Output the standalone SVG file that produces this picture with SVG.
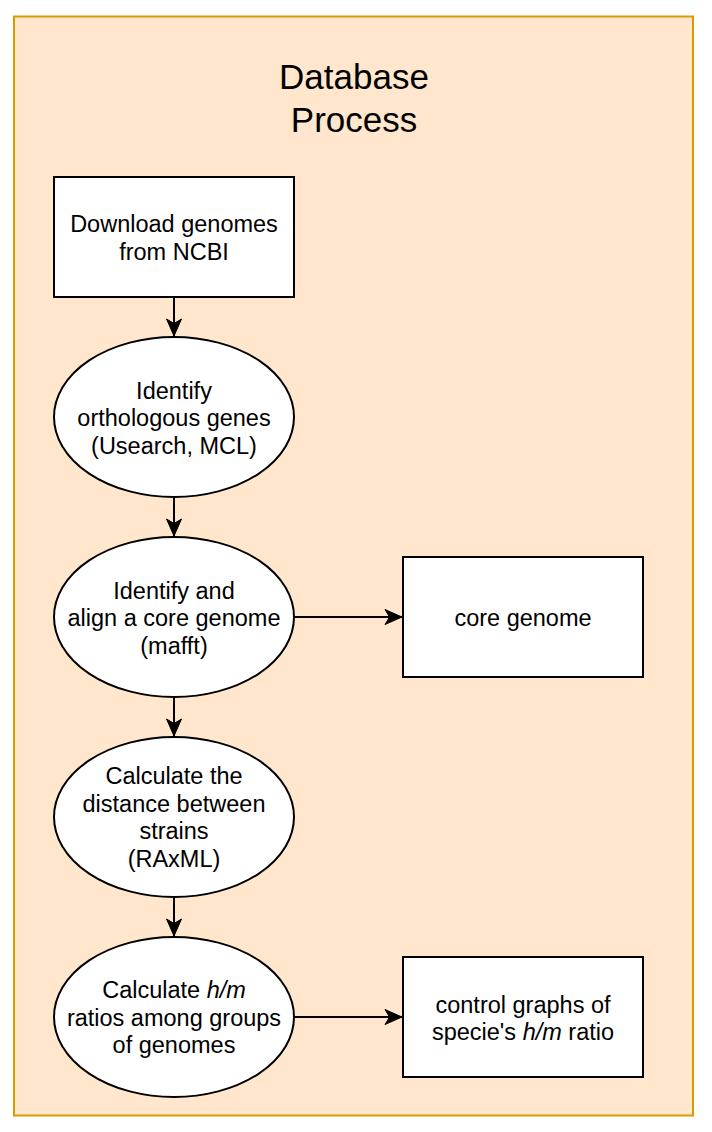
<svg xmlns="http://www.w3.org/2000/svg" width="712" height="1132" viewBox="0 0 712 1132">
  <style>
    .node { fill: #FFFFFF; stroke: #000000; stroke-width: 2; }
    .lbl { font-family: "Liberation Sans", Arial, Helvetica, sans-serif; font-size: 23.5px; fill: #000000; text-anchor: middle; }
    .title { font-family: "Liberation Sans", Arial, Helvetica, sans-serif; font-size: 35px; fill: #000000; text-anchor: middle; }
    .conn { fill: none; stroke: #000000; stroke-width: 2; marker-end: url(#arrow); }
    .it { font-style: italic; }
  </style>
  <defs>
    <marker id="arrow" markerUnits="userSpaceOnUse" markerWidth="20" markerHeight="18" viewBox="-18 -9 20 18" refX="0" refY="0" orient="auto">
      <path d="M0,0 L-17,-7.5 L-12.5,0 L-17,7.5 Z" fill="#000000" stroke="#000000" stroke-width="1" stroke-linejoin="miter"/>
    </marker>
  </defs>

  <g id="container">
    <rect x="14" y="16.5" width="679" height="1099" fill="#FFE6CC" stroke="#D79B00" stroke-width="2"/>
    <text class="title" x="354" y="89">Database</text>
    <text class="title" x="354" y="132">Process</text>
  </g>

  <g id="connectors">
    <line class="conn" x1="174" y1="297" x2="174" y2="336"/>
    <line class="conn" x1="174" y1="497" x2="174" y2="536"/>
    <line class="conn" x1="174" y1="697" x2="174" y2="736"/>
    <line class="conn" x1="174" y1="897" x2="174" y2="936"/>
    <line class="conn" x1="294" y1="617" x2="402" y2="617"/>
    <line class="conn" x1="294" y1="1017" x2="402" y2="1017"/>
  </g>

  <g id="download">
    <rect class="node" x="54" y="177" width="240" height="120"/>
    <text class="lbl" x="174" y="232">Download genomes</text>
    <text class="lbl" x="174" y="259.5">from NCBI</text>
  </g>

  <g id="orthologous">
    <ellipse class="node" cx="174" cy="417" rx="120" ry="80"/>
    <text class="lbl" x="174" y="398.5">Identify</text>
    <text class="lbl" x="174" y="426">orthologous genes</text>
    <text class="lbl" x="174" y="453.5">(Usearch, MCL)</text>
  </g>

  <g id="core-align">
    <ellipse class="node" cx="174" cy="617" rx="120" ry="80"/>
    <text class="lbl" x="174" y="598.5">Identify and</text>
    <text class="lbl" x="174" y="626">align a core genome</text>
    <text class="lbl" x="174" y="653.5">(mafft)</text>
  </g>

  <g id="core-genome">
    <rect class="node" x="403" y="557" width="240" height="120"/>
    <text class="lbl" x="523" y="626">core genome</text>
  </g>

  <g id="distance">
    <ellipse class="node" cx="174" cy="817" rx="120" ry="80"/>
    <text class="lbl" x="174" y="784">Calculate the</text>
    <text class="lbl" x="174" y="811.5">distance between</text>
    <text class="lbl" x="174" y="839">strains</text>
    <text class="lbl" x="174" y="866.5">(RAxML)</text>
  </g>

  <g id="hm-ratio">
    <ellipse class="node" cx="174" cy="1017" rx="120" ry="80"/>
    <text class="lbl" x="174" y="998">Calculate <tspan class="it">h/m</tspan></text>
    <text class="lbl" x="174" y="1025.5">ratios among groups</text>
    <text class="lbl" x="174" y="1053">of genomes</text>
  </g>

  <g id="control-graphs">
    <rect class="node" x="403" y="957" width="240" height="120"/>
    <text class="lbl" x="523" y="1012.5">control graphs of</text>
    <text class="lbl" x="523" y="1040">specie's <tspan class="it">h/m</tspan> ratio</text>
  </g>
</svg>
